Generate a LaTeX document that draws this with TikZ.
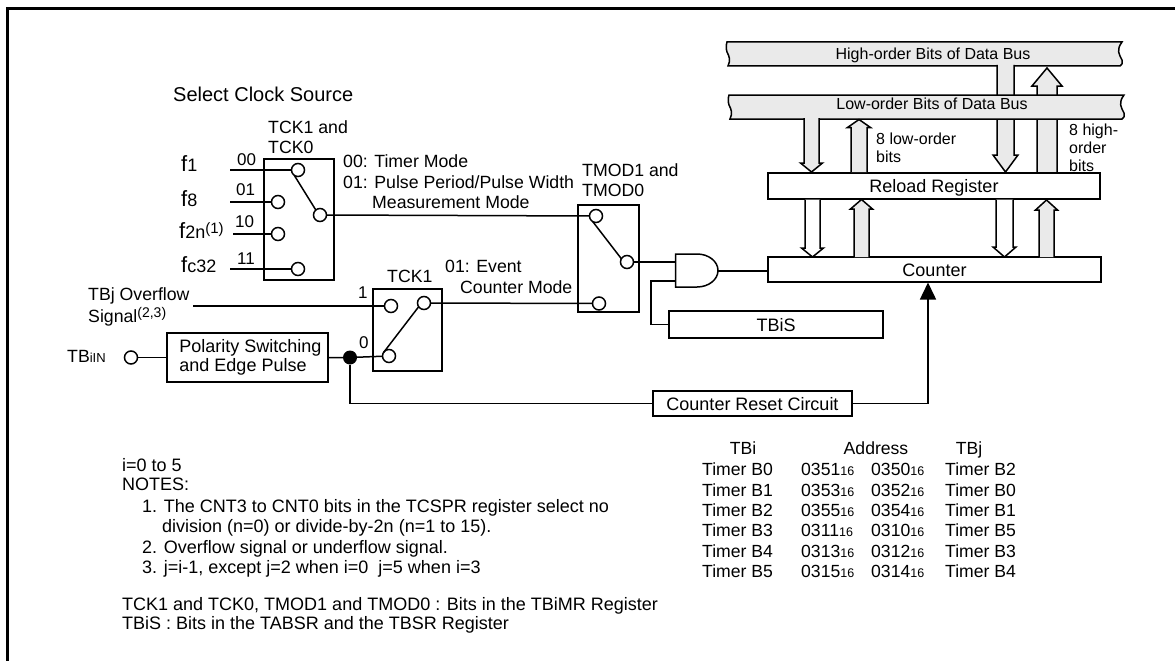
\documentclass[tikz,border=0pt]{standalone}
\usepackage{fontspec}
\setmainfont{Liberation Sans}
\usetikzlibrary{calc,arrows.meta}
\definecolor{busgray}{HTML}{EAEAEA}
\newcommand{\sz}[1]{\fontsize{#1}{#1}\selectfont}
\newcommand{\smtxt}[1]{{\sz{13}#1}}
\newcommand{\subs}{{\sz{12.5}16}}
% tail, tip, half shaft, half wing, head length, fill
\newcommand{\blockarrow}[6]{%
  \draw[blk,fill=#6] let \p1=(#1),\p2=(#2),\n1={ifthenelse(\y2>\y1,1,-1)} in
    (\x2-#3pt,\y1) -- (\x2-#3pt,\y2-\n1*#5pt) -- (\x2-#4pt,\y2-\n1*#5pt) -- (\x2,\y2)
    -- (\x2+#4pt,\y2-\n1*#5pt) -- (\x2+#3pt,\y2-\n1*#5pt) -- (\x2+#3pt,\y1);}
\tikzset{
  wire/.style={line width=1.5pt,line join=miter},
  blk/.style={line width=1.5pt,line join=miter},
  boxn/.style={draw,line width=1.5pt,inner sep=0pt,outer sep=0pt,anchor=north west},
  sw/.style={draw,circle,fill=white,line width=1.5pt,minimum size=13pt,inner sep=0pt,outer sep=0pt},
  dotn/.style={circle,fill=black,minimum size=14pt,inner sep=0pt,outer sep=0pt},
  lab16/.style={font=\sz{16},text height=11.5pt,text depth=0pt,inner sep=0pt,anchor=west},
  lab18/.style={font=\sz{17.7},text height=13pt,text depth=0pt,inner sep=0pt,anchor=west},
  lab20/.style={font=\sz{20},text height=14.4pt,text depth=0pt,inner sep=0pt,anchor=west},
  note/.style={font=\sz{18},text height=13pt,text depth=0pt,inner sep=0pt,anchor=west},
  tab/.style={font=\sz{17.6},text height=12.7pt,text depth=0pt,inner sep=0pt,anchor=west},
}
\begin{document}
\begin{tikzpicture}[x=1pt,y=-1pt]
\useasboundingbox (0,0) rectangle (1175,661);
% frame
\draw[line width=3pt] (7,661) -- (7,9) -- (1175,9);

% --- data buses
\draw[blk,fill=busgray] (727,42) -- (1122,42) .. controls (1116,50) and (1119,54) .. (1122,60) .. controls (1123,63) and (1122,65) .. (1120,66)
   -- (728,66) .. controls (731,60) and (729,56) .. (727,52) .. controls (726,49) and (726,45) .. (727,42) -- cycle;
\coordinate (hs0) at (1005.5,65);
\coordinate (hs1) at (1005.5,172);
\coordinate (hu0) at (1047,172);
\coordinate (hu1) at (1047,68);
\blockarrow{hs0}{hs1}{8.5}{12.5}{17}{busgray}
\blockarrow{hu0}{hu1}{10}{15}{18}{busgray}
\draw[blk,fill=busgray] (729,95) -- (1124,95) .. controls (1118,103) and (1121,107) .. (1124,113) .. controls (1125,116) and (1124,118) .. (1122,119)
   -- (730,119) .. controls (733,113) and (731,109) .. (729,105) .. controls (728,102) and (728,98) .. (729,95) -- cycle;
\node[lab16,anchor=center] (hibus) at (933,53.5) {High-order Bits of Data Bus};
\node[lab16,anchor=center] (lobus) at (932,104) {Low-order Bits of Data Bus};

% --- registers
\node[boxn,minimum width=332pt,minimum height=26pt,font=\sz{18},text height=13pt,text depth=0pt] (reload) at (768,173) {Reload Register};
\node[boxn,minimum width=333pt,minimum height=25pt,font=\sz{18},text height=13pt,text depth=0pt] (counter) at (768,257) {Counter};
\node[boxn,minimum width=214pt,minimum height=27pt,font=\sz{18},text height=13pt,text depth=0pt] (tbis) at (669,311) {TBiS};
\node[boxn,minimum width=199pt,minimum height=25pt,font=\sz{18},text height=13pt,text depth=0pt] (crc) at (653,391) {Counter Reset Circuit};
\node[boxn,minimum width=161pt,minimum height=49pt,font=\fontsize{18}{19.5}\selectfont,align=left] (pol) at (167,333) {\hspace*{6pt}Polarity Switching\\\hspace*{6pt}and Edge Pulse};

% --- block arrows between buses and registers
\coordinate (a0) at (811.5,118); \coordinate (a1) at (811.5,172);
\blockarrow{a0}{a1}{7.5}{11}{9}{busgray}
\coordinate (b0) at (859,172); \coordinate (b1) at (859,119.5);
\blockarrow{b0}{b1}{8}{11.5}{8}{busgray}
\coordinate (c0) at (812.5,199.5); \coordinate (c1) at (812.5,257);
\blockarrow{c0}{c1}{7.5}{11}{9}{white}
\coordinate (d0) at (861.5,257); \coordinate (d1) at (861.5,199.5);
\blockarrow{d0}{d1}{7.5}{11}{9.5}{busgray}
\coordinate (e0) at (1004.5,199.5); \coordinate (e1) at (1004.5,257);
\blockarrow{e0}{e1}{8.5}{11.5}{10}{white}
\coordinate (f0) at (1046.5,257); \coordinate (f1) at (1046.5,200);
\blockarrow{f0}{f1}{7.5}{11}{10}{busgray}

\node[lab16] (lo1) at (876,139) {8 low-order};
\node[lab16] (lo2) at (876,157) {bits};
\node[lab16] (hi1) at (1069,130) {8 high-};
\node[lab16] (hi2) at (1069,148) {order};
\node[lab16] (hi3) at (1069,166) {bits};

% --- clock selector
\node[lab20] (sel) at (173,94) {Select Clock Source};
\node[lab18] (tck1a) at (268,127) {TCK1 and};
\node[lab18] (tck0a) at (268,147) {TCK0};
\node[boxn,minimum width=70pt,minimum height=121pt] (swa) at (264,159) {};
\node[sw] (a00) at (298,170) {};
\node[sw] (a01) at (278,202) {};
\node[sw] (a10) at (278,234) {};
\node[sw] (a11) at (298,269) {};
\node[sw] (aout) at (320,215) {};
\coordinate (fa) at (230,170);
\coordinate (fb) at (230,202);
\coordinate (fc) at (233,234);
\coordinate (fd) at (230,269);
\draw[wire] (fa) -- (a00);
\draw[wire] (fb) -- (a01);
\draw[wire] (fc) -- (a10);
\draw[wire] (fd) -- (a11);
\draw[wire] (a00.235) -- (aout.130);
\node[lab20] (f1t) at (181,164) {\sz{22}f{\sz{18}1}};
\node[lab20] (f8t) at (181,199) {\sz{22}f{\sz{18}8}};
\node[lab20] (f2t) at (179,231) {\sz{22}f{\sz{18}2n}\raisebox{5pt}{\sz{15}(1)}};
\node[lab20] (fct) at (181,265) {\sz{22}f{\sz{18}c32}};
\node[lab16,font=\sz{17}] (n00) at (237,160) {00};
\node[lab16,font=\sz{17}] (n01) at (236,190) {01};
\node[lab16,font=\sz{17}] (n10) at (235,222) {10};
\node[lab16,font=\sz{17}] (n11) at (237,259) {11};
\node[lab18] (m00) at (343,161) {00: Timer Mode};
\node[lab18] (m01) at (343,182) {01: Pulse Period/Pulse Width};
\node[lab18] (m01b) at (372,202) {Measurement Mode};

% --- event counter selector
\node[lab18] (tck1b) at (387,276) {TCK1};
\node[boxn,minimum width=69pt,minimum height=82pt] (swb) at (373,289) {};
\node[sw] (b1c) at (391,306) {};
\node[sw] (b0c) at (389,356) {};
\node[sw] (bout) at (424,303) {};
\draw[wire] (b0c.150) -- (bout.215);
\node[lab18] (tbj1) at (88,294) {TBj Overflow};
\node[lab18] (tbj2) at (88,316) {Signal\raisebox{5pt}{\sz{14}(2,3)}};
\coordinate (ovf) at (193,306);
\draw[wire] (ovf) -- (b1c);
\node[lab16,font=\sz{17}] (one) at (358,293) {1};
\node[lab16,font=\sz{17}] (zero) at (359,343) {0};
\node[lab18] (tbin) at (67,356) {TB\smtxt{iIN}};
\node[sw] (tin) at (131,357.5) {};
\draw[wire] (tin) -- (tin -| pol.west);
\node[dotn] (jn) at (350,357.5) {};
\draw[wire] (jn -| pol.east) -- (jn) -- (b0c);
\node[lab18] (ev1) at (445,266) {01: Event};
\node[lab18] (ev2) at (460,287) {Counter Mode};

% --- mode selector
\node[lab18] (tm1) at (582,170) {TMOD1 and};
\node[lab18] (tm0) at (582,190) {TMOD0};
\node[boxn,minimum width=61pt,minimum height=107pt] (swc) at (578,205) {};
\node[sw] (c1c) at (596,216) {};
\node[sw] (c2c) at (599,303.5) {};
\node[sw] (cout) at (627,262) {};
\draw[wire] (c1c.240) -- (cout.150);
\draw[wire] (aout) -- (c1c);
\draw[wire] (bout) -- (c2c);

% --- AND gate
\coordinate (andi1) at (675.5,262);
\coordinate (andi2) at (675.5,281);
\coordinate (ando) at (718,271);
\draw[wire] (675.5,254) -- (697,254) arc[start angle=90,end angle=-90,x radius=21pt,y radius=16.5pt] -- (675.5,287) -- cycle;
\draw[wire] (cout) -- (andi1);
\draw[wire] (tbis.west) -- ++(-18,0) |- (andi2);
\draw[wire] (ando) -- (ando -| counter.west);

% --- reset path
\coordinate (ctrin) at (928,282.5);
\draw[wire,-{Triangle[length=17pt,width=16pt]}] (crc.east) -| (ctrin);
\draw[wire] (jn) |- (crc.west);

% --- address table
\node[tab,anchor=center] (hi) at (743,448) {TBi};
\node[tab,anchor=center] (ha) at (876,448) {Address};
\node[tab,anchor=center] (hj) at (969,448) {TBj};
\foreach \y/\b/\hi/\lo/\j [count=\r] in {469/0/0351/0350/2,490/1/0353/0352/0,510/2/0355/0354/1,530/3/0311/0310/5,551/4/0313/0312/3,571/5/0315/0314/4}{
  \node[tab] (ti\r) at (702,\y) {Timer B\b};
  \node[tab] (ah\r) at (801,\y) {\hi\subs};
  \node[tab] (al\r) at (871,\y) {\lo\subs};
  \node[tab] (tj\r) at (945,\y) {Timer B\j};
}

% --- notes
\node[note] (nt1) at (122,465) {i=0 to 5};
\node[note] (nt2) at (122,484) {NOTES:};
\node[note] (nt3) at (142,506) {1. The CNT3 to CNT0 bits in the TCSPR register select no};
\node[note] (nt4) at (162,526) {division (n=0) or divide-by-2n (n=1 to 15).};
\node[note] (nt5) at (142,547) {2. Overflow signal or underflow signal.};
\node[note] (nt6) at (142,567) {3. j=i-1, except j=2 when i=0\ \ j=5 when i=3};
\node[note] (nt7) at (122,604) {TCK1 and TCK0, TMOD1 and TMOD0 : Bits in the TBiMR Register};
\node[note] (nt8) at (122,623) {TBiS : Bits in the TABSR and the TBSR Register};
\end{tikzpicture}
\end{document}
